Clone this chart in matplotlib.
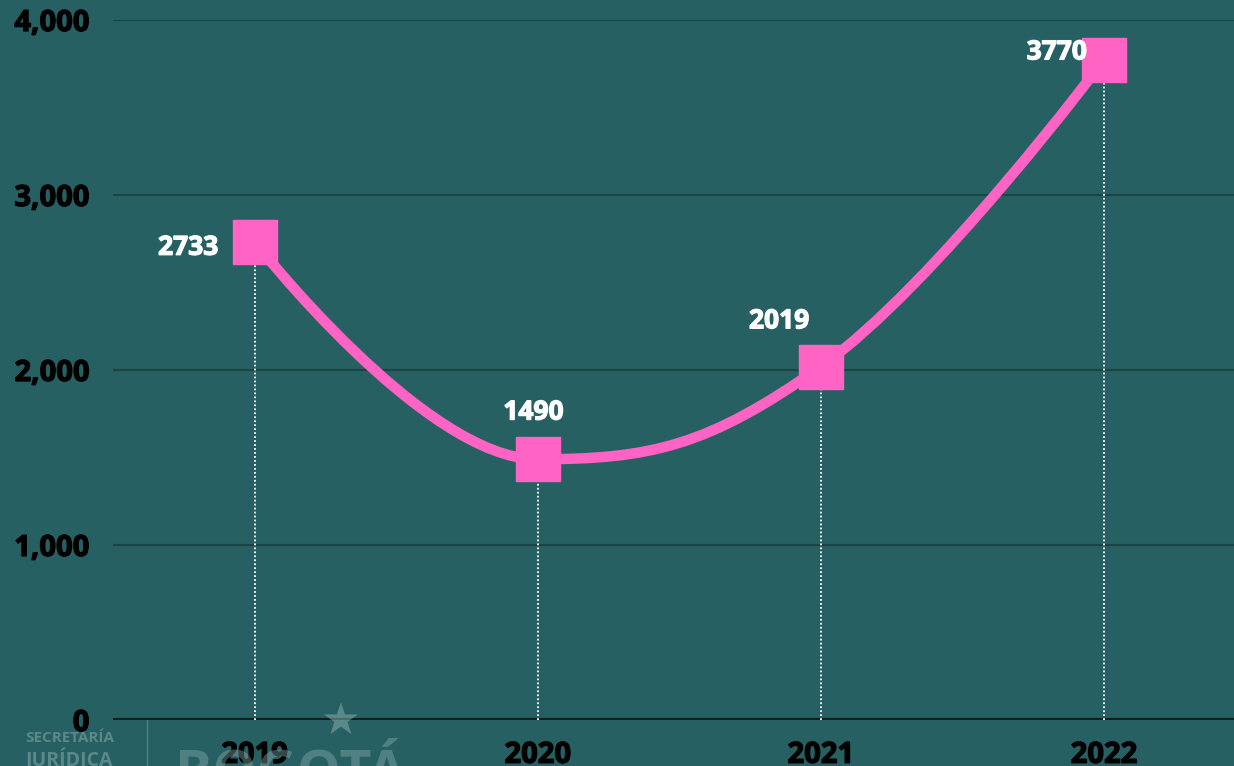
import numpy as np
import matplotlib.pyplot as plt
import matplotlib.patheffects as pe
from matplotlib.path import Path
from matplotlib.patches import PathPatch

# data
years = ["2019", "2020", "2021", "2022"]
values = [2733, 1490, 2019, 3770]
y_ticks = [0, 1000, 2000, 3000, 4000]

bg = "#276062"
pink = "#ff63c3"

plt.rcParams['font.family'] = ['Open Sans', 'DejaVu Sans']

fig = plt.figure(figsize=(12.34, 7.66), dpi=100, facecolor=bg)
ax = fig.add_axes([113 / 1234, 46 / 766, 1121 / 1234, 700 / 766])
ax.set_facecolor(bg)

x = np.arange(len(years), dtype=float)
y = np.array(values, dtype=float)

# spline like the charting tool's "spline" series (smoothing 1.5, no overshoot)
n = len(x)
lcx, lcy, rcx, rcy = x.copy(), y.copy(), x.copy(), y.copy()
s = 1.5
for i in range(1, n - 1):
    lx = (s * x[i] + x[i - 1]) / (s + 1)
    ly = (s * y[i] + y[i - 1]) / (s + 1)
    rx = (s * x[i] + x[i + 1]) / (s + 1)
    ry = (s * y[i] + y[i + 1]) / (s + 1)
    corr = (ry - ly) * (rx - x[i]) / (rx - lx) + y[i] - ry
    ly += corr
    ry += corr
    if ly > max(y[i - 1], y[i]):
        ly = max(y[i - 1], y[i]); ry = 2 * y[i] - ly
    elif ly < min(y[i - 1], y[i]):
        ly = min(y[i - 1], y[i]); ry = 2 * y[i] - ly
    if ry > max(y[i + 1], y[i]):
        ry = max(y[i + 1], y[i]); ly = 2 * y[i] - ry
    elif ry < min(y[i + 1], y[i]):
        ry = min(y[i + 1], y[i]); ly = 2 * y[i] - ry
    lcx[i], lcy[i], rcx[i], rcy[i] = lx, ly, rx, ry
verts = [(x[0], y[0])]
codes = [Path.MOVETO]
for i in range(1, n):
    verts += [(rcx[i - 1], rcy[i - 1]), (lcx[i], lcy[i]), (x[i], y[i])]
    codes += [Path.CURVE4] * 3
ax.add_patch(PathPatch(Path(verts, codes), fill=False, edgecolor=pink,
                       lw=7.5, capstyle='round', joinstyle='round', zorder=4))

# dotted drop lines
for xi, yi in zip(x, y):
    ax.plot([xi, xi], [0, yi], color="white", lw=1.3, ls=(0, (1, 1.2)), zorder=3)

ax.plot(x, y, ls="none", marker="s", ms=32, color=pink, zorder=5)

# data labels
offsets = [(-26, -4, "right"), (-3, 34, "center"),
           (-30, 33, "center"), (-12, 6, "right")]
for xi, yi, (dx, dy, ha) in zip(x, y, offsets):
    ax.annotate(str(int(yi)), (xi, yi), xytext=(dx, dy), textcoords="offset points",
                ha=ha, va="center", color="white", fontsize=19, fontweight="bold",
                zorder=6, path_effects=[pe.withStroke(linewidth=0.9, foreground="white")])

ax.set_xlim(-0.5, 3.46)
ax.set_ylim(0, 4000)
ax.set_xticks(x)
ax.set_xticklabels(years)
ax.set_yticks(y_ticks)
ax.set_yticklabels([f"{v:,}" for v in y_ticks])
ax.tick_params(length=0, labelsize=21, labelcolor="black")
ax.tick_params(axis="y", pad=17)
ax.tick_params(axis="x", pad=15)
for lbl in ax.get_xticklabels() + ax.get_yticklabels():
    lbl.set_fontweight("bold")
    lbl.set_path_effects([pe.withStroke(linewidth=0.9, foreground="black")])

ax.grid(axis="y", color="#1c4446", lw=1.5, zorder=1)
ax.axhline(0, color="#141f1f", lw=3, zorder=2)
ax.grid(axis="x", visible=False)
for sp in ax.spines.values():
    sp.set_visible(False)

# faint logo at bottom left
logo = "#8fb1b1"
fig.text(25 / 1234, 1 - 738 / 766, "SECRETARÍA", color=logo, fontsize=11,
         fontweight="bold", alpha=0.5, va="center", zorder=0)
fig.text(25 / 1234, 1 - 760 / 766, "JURÍDICA", color=logo, fontsize=14,
         fontweight="bold", alpha=0.5, va="center", zorder=0)
fig.add_artist(plt.Line2D([147 / 1234, 147 / 1234], [0, 52 / 766], color=logo,
                          alpha=0.4, lw=1, zorder=0))
fig.text(175 / 1234, 1 - 775 / 766, "BOGOTÁ", color=logo, fontsize=40,
         fontweight="bold", alpha=0.4, va="center", zorder=0)
fig.text(340 / 1234, 1 - 722 / 766, "★", color=logo, fontsize=32,
         alpha=0.5, ha="center", va="center", family="DejaVu Sans", zorder=0)

fig.savefig("out.png", dpi=100, facecolor=bg)
